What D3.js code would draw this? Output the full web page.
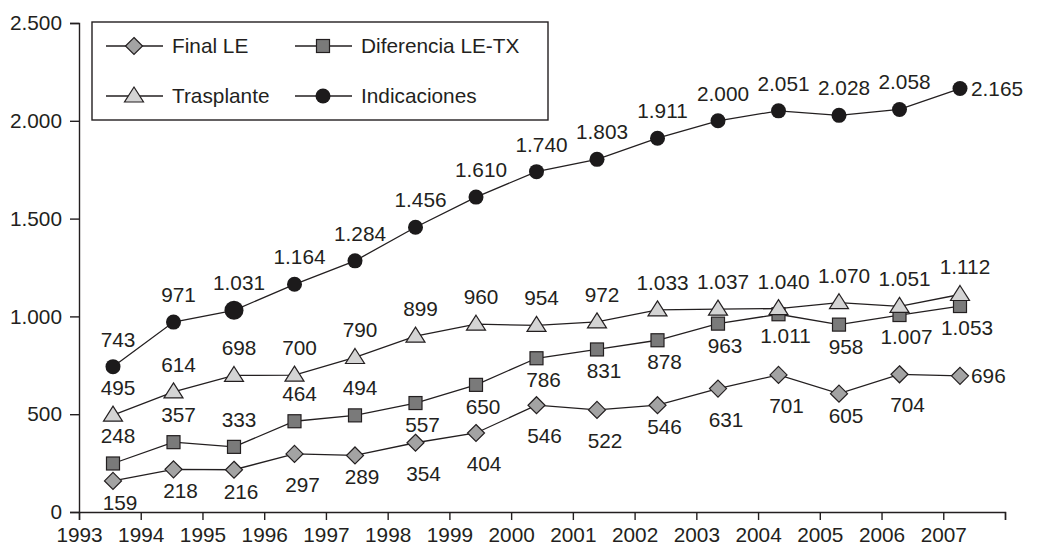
<!DOCTYPE html>
<html>
<head>
<meta charset="utf-8">
<script src="https://cdn.jsdelivr.net/npm/d3@7"></script>
<style>
  html, body { margin: 0; padding: 0; background: #fff; }
  svg { display: block; font-family: "Liberation Sans", Arial, sans-serif; }
</style>
</head>
<body>
<div id="chart"></div>
<script>
// data
const years = [1993, 1994, 1995, 1996, 1997, 1998, 1999, 2000, 2001, 2002, 2003, 2004, 2005, 2006, 2007];
const finalLE     = [159, 218, 216, 297, 289, 354, 404, 546, 522, 546, 631, 701, 605, 704, 696];
const diferencia  = [248, 357, 333, 464, 494, 557, 650, 786, 831, 878, 963, 1011, 958, 1007, 1053];
const trasplante  = [495, 614, 698, 700, 790, 899, 960, 954, 972, 1033, 1037, 1040, 1070, 1051, 1112];
const indicaciones = [743, 971, 1031, 1164, 1284, 1456, 1610, 1740, 1803, 1911, 2000, 2051, 2028, 2058, 2165];
const yTicks = [0, 500, 1000, 1500, 2000, 2500];
const xTickYears = d3.range(1993, 2009);

// where each value label sits: a = above, b = below, B = further below, r = right
const finalPos  = ["b","b","b","B","b","B","B","B","B","b","B","B","b","B","r"];
const difPos    = ["a","a","a","a","a","b","b","b","b","b","b","b","b","b","b"];
const trasPos   = ["a","a","a","a","a","a","a","a","a","a","a","a","a","a","a"];
const indPos    = ["a","a","a","a","a","a","a","a","a","a","a","a","a","a","r"];

const fmt = v => d3.format(",")(v).replace(/,/g, ".");

const width = 1037, height = 547;
const ink = "#231f20";
const fontSize = 20.8;

const svg = d3.select("#chart").append("svg")
  .attr("width", width)
  .attr("height", height);

const y = d3.scaleLinear().domain([0, 2500]).range([512, 23]);
const xTick = d3.scaleLinear().domain([1993, 2008]).range([79, 1005]);
const x = d3.scalePoint().domain(years).range([113, 960]);

// axes
const yAxis = svg.append("g")
  .attr("transform", "translate(79,0)")
  .call(d3.axisLeft(y).tickValues(yTicks).tickSize(9).tickPadding(8).tickFormat(fmt));

const xAxis = svg.append("g")
  .attr("transform", "translate(0,512)")
  .call(d3.axisBottom(xTick).tickValues(xTickYears).tickSize(8).tickPadding(7)
    .tickFormat(d => d === 2008 ? "" : d));

[yAxis, xAxis].forEach(ax => {
  ax.select(".domain").attr("stroke", ink).attr("stroke-width", 1.4);
  ax.selectAll(".tick line").attr("stroke", ink).attr("stroke-width", 1.4);
  ax.selectAll(".tick text").attr("fill", ink).attr("font-size", fontSize)
    .attr("font-family", "Liberation Sans, Arial, sans-serif");
});

// markers
function marker(g, type, big) {
  if (type === "diamond") {
    g.append("path").attr("d", "M0,-8.5L8.5,0L0,8.5L-8.5,0Z")
      .attr("fill", "#a3a3a3").attr("stroke", ink).attr("stroke-width", 1.2);
  } else if (type === "square") {
    g.append("rect").attr("x", -6.5).attr("y", -6.5).attr("width", 13).attr("height", 13)
      .attr("fill", "#7a7a7a").attr("stroke", ink).attr("stroke-width", 1.2);
  } else if (type === "triangle") {
    g.append("path").attr("d", "M0,-9L9.5,6L-9.5,6Z")
      .attr("fill", "#d4d4d4").attr("stroke", ink).attr("stroke-width", 1.2);
  } else {
    g.append("circle").attr("r", big ? 9.5 : 7.5).attr("fill", "#1c1a1b");
  }
}

const series = [
  { name: "Final LE", values: finalLE, pos: finalPos, type: "diamond" },
  { name: "Diferencia LE-TX", values: diferencia, pos: difPos, type: "square" },
  { name: "Trasplante", values: trasplante, pos: trasPos, type: "triangle" },
  { name: "Indicaciones", values: indicaciones, pos: indPos, type: "circle" }
];

const line = d3.line()
  .x((d, i) => x(years[i]))
  .y(d => y(d));

series.forEach(s => {
  svg.append("path")
    .datum(s.values)
    .attr("fill", "none")
    .attr("stroke", ink)
    .attr("stroke-width", 1.3)
    .attr("d", line);
});

series.forEach(s => {
  const g = svg.append("g");
  s.values.forEach((v, i) => {
    const m = g.append("g").attr("transform", `translate(${x(years[i])},${y(v)})`);
    // the 1995 dot is printed larger in the source
    marker(m, s.type, s.type === "circle" && years[i] === 1995);
  });
});

// value labels
series.forEach(s => {
  const g = svg.append("g")
    .attr("font-size", fontSize)
    .attr("fill", ink);
  s.values.forEach((v, i) => {
    const px = x(years[i]), py = y(v);
    const p = s.pos[i];
    const t = g.append("text").text(fmt(v));
    if (p === "a") {
      t.attr("x", px + 5).attr("y", py - 20).attr("text-anchor", "middle");
    } else if (p === "b") {
      t.attr("x", px + 7).attr("y", py + 29).attr("text-anchor", "middle");
    } else if (p === "B") {
      t.attr("x", px + 8).attr("y", py + 38).attr("text-anchor", "middle");
    } else {
      t.attr("x", px + 11).attr("y", py + 7).attr("text-anchor", "start");
    }
  });
});

// legend
const legend = svg.append("g");
legend.append("rect")
  .attr("x", 92).attr("y", 22).attr("width", 456).attr("height", 98)
  .attr("fill", "#fff").attr("stroke", ink).attr("stroke-width", 1.4);

const legendItems = [
  { s: series[0], lx: 106, ly: 46 },
  { s: series[1], lx: 295, ly: 46 },
  { s: series[2], lx: 106, ly: 96 },
  { s: series[3], lx: 295, ly: 96 }
];
legendItems.forEach(d => {
  const g = legend.append("g").attr("transform", `translate(${d.lx},${d.ly})`);
  g.append("line").attr("x1", 0).attr("x2", 57).attr("y1", 0).attr("y2", 0)
    .attr("stroke", ink).attr("stroke-width", 1.3);
  marker(g.append("g").attr("transform", "translate(28,0)"), d.s.type, false);
  g.append("text").attr("x", 66).attr("y", 7)
    .attr("font-size", fontSize).attr("fill", ink).text(d.s.name);
});
</script>
</body>
</html>
